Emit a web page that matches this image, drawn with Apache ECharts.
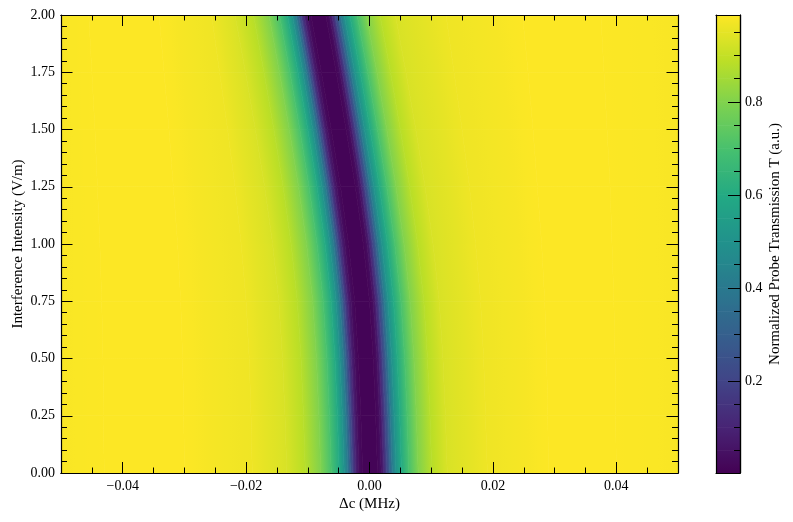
<!DOCTYPE html>
<html><head><meta charset="utf-8">
<style>html,body{margin:0;padding:0;background:#fff}#c{width:793px;height:522px}</style>
<script src="https://cdn.jsdelivr.net/npm/echarts@6/dist/echarts.min.js"></script>
</head><body><div id="c"></div>
<script>
// Transmission levels, left edge to right edge of the plot (band boundaries)
const levels = [0.98,0.985,0.985,0.965,0.93,0.88,0.80,0.70,0.60,0.50,0.40,0.30,0.20,0.10,0.04,0.01,
                0.01,0.04,0.10,0.20,0.30,0.40,0.50,0.60,0.70,0.80,0.88,0.93,0.965,0.985,0.985,0.98];
// Interference intensity (V/m) of each measured row
const intensities = [0,0.25,0.5,0.75,1,1.25,1.5,1.75,2];
// Detuning (in 1e-4 MHz) at which each row reaches each level
const row000 = [-500,-430,-300,-190,-134,-104,-79,-62,-49,-41,-35,-31,-27,-22,-17,-11, 13,19,23,28,33,37,43,52,64,79,101,126,191,290,400,500];
const row025 = [-500,-431,-301,-192,-137,-107,-82,-65,-52,-44,-38,-34,-30,-25,-20,-14, 10,16,20,25,30,34,40,49,61,76,98,123,188,289,399,500];
const row050 = [-500,-432,-303,-195,-141,-111,-86,-69,-56,-48,-42,-38,-34,-29,-24,-18, 6,12,16,21,26,30,36,45,57,72,94,119,185,287,398,500];
const row075 = [-500,-434,-306,-200,-147,-117,-92,-75,-62,-54,-48,-44,-40,-35,-30,-24, 0,6,10,15,20,24,30,39,51,66,88,113,180,284,396,500];
const row100 = [-500,-437,-311,-208,-157,-127,-102,-85,-72,-64,-58,-54,-50,-45,-40,-34, -10,-4,0,5,10,14,20,29,41,56,78,103,172,279,393,500];
const row125 = [-500,-441,-318,-218,-170,-140,-115,-98,-85,-77,-71,-67,-63,-58,-53,-47, -23,-17,-13,-8,-3,1,7,16,28,43,65,90,162,272,390,500];
const row150 = [-500,-445,-325,-230,-185,-155,-130,-113,-100,-92,-86,-82,-78,-73,-68,-62, -38,-32,-28,-23,-18,-14,-8,1,13,28,50,75,150,265,385,500];
const row175 = [-500,-450,-333,-243,-201,-171,-146,-129,-116,-108,-102,-98,-94,-89,-84,-78, -54,-48,-44,-39,-34,-30,-24,-15,-3,12,34,59,137,257,380,500];
const row200 = [-500,-455,-341,-256,-218,-188,-163,-146,-133,-125,-119,-115,-111,-106,-101,-95, -71,-65,-61,-56,-51,-47,-41,-32,-20,-5,17,42,124,248,375,500];
const rows = [row000,row025,row050,row075,row100,row125,row150,row175,row200];
const detuningUnit = 1e-4;

const xMajor = [-0.04,-0.02,0,0.02,0.04];
const xMinor = [-0.045,-0.035,-0.03,-0.025,-0.015,-0.01,-0.005,0.005,0.01,0.015,0.025,0.03,0.035,0.045];
const cbarMajor = [0.2,0.4,0.6,0.8];
const cbarMinor = [0.05,0.1,0.15,0.25,0.3,0.35,0.45,0.5,0.55,0.65,0.7,0.75,0.85,0.9,0.95];
const cbarLevels = [0.002,0.05,0.1,0.15,0.2,0.25,0.3,0.35,0.4,0.45,0.5,0.55,0.6,0.65,0.7,0.75,0.8,0.85,0.9,0.95,0.987];
const tMin = 0.002, tMax = 0.987;
const viridis = ['#440154','#482475','#414487','#355f8d','#2a788e','#21918c','#22a884','#44bf70','#7ad151','#bddf26','#fde725'];

const FONT = '"Liberation Serif","Times New Roman",serif';
function tColor(t){
  const u = Math.max(0,Math.min(1,(t-tMin)/(tMax-tMin)));
  return echarts.color.lerp(u, viridis);
}
function gradient(x0,y0,x1,y1,t0,t1){
  const stops = [];
  const n = 6;
  for(let i=0;i<=n;i++) stops.push({offset:i/n,color:tColor(t0+(t1-t0)*i/n)});
  return new echarts.graphic.LinearGradient(x0,y0,x1,y1,stops,true);
}
// one quad per (row pair, band)
const cells = [];
for(let r=0;r<rows.length-1;r++){
  for(let b=0;b<levels.length-1;b++){
    cells.push([rows[r][b]*detuningUnit,rows[r][b+1]*detuningUnit,rows[r+1][b]*detuningUnit,rows[r+1][b+1]*detuningUnit,
                intensities[r],intensities[r+1],levels[b],levels[b+1]]);
  }
}
const cbarCells = [];
for(let i=0;i<cbarLevels.length-1;i++) cbarCells.push([0,1,cbarLevels[i],cbarLevels[i+1]]);

function renderCell(params,api){
  const v = i=>api.value(i);
  const a = api.coord([v(0),v(4)]), b = api.coord([v(1),v(4)]), c = api.coord([v(3),v(5)]), d = api.coord([v(2),v(5)]);
  // iso-lines run along the band edge a-d
  const mL=[(a[0]+d[0])/2,(a[1]+d[1])/2], mR=[(b[0]+c[0])/2,(b[1]+c[1])/2];
  let nx=a[1]-d[1], ny=d[0]-a[0];
  const len=Math.hypot(nx,ny); nx/=len; ny/=len;
  const proj=(mR[0]-mL[0])*nx+(mR[1]-mL[1])*ny;
  const g = gradient(mL[0],mL[1],mL[0]+nx*proj,mL[1]+ny*proj,v(6),v(7));
  return {type:'polygon',shape:{points:[a,b,c,d]},style:{fill:g,stroke:g,lineWidth:0.7}};
}
function renderBar(params,api){
  const p0=api.coord([0,api.value(2)]), p1=api.coord([1,api.value(3)]);
  const g=gradient(0,p0[1],0,p1[1],api.value(2),api.value(3));
  return {type:'rect',shape:{x:p0[0],y:p1[1],width:p1[0]-p0[0],height:p0[1]-p1[1]},style:{fill:g,stroke:g,lineWidth:0.7}};
}
const black = '#000';
const line = {show:true,onZero:false,lineStyle:{color:black,width:1.2}};
const txt = {color:black,fontFamily:FONT,fontSize:14};
const nameTxt = {color:black,fontFamily:FONT,fontSize:15};
function xAx(pos,vals,len,labels,extra){
  return Object.assign({type:'value',gridIndex:0,position:pos,min:-0.05,max:0.05,z:10,splitLine:{show:false},axisLine:line,
    axisTick:{show:true,inside:true,length:len,customValues:vals,lineStyle:{color:black,width:1}},
    axisLabel:labels?Object.assign({show:true,margin:6,customValues:vals,
      formatter:v=>v.toFixed(2).replace('-','\u2212')},txt):{show:false}},extra||{});
}
function yAx(pos,labels,extra){
  return Object.assign({type:'value',gridIndex:0,position:pos,min:0,max:2,interval:0.25,z:10,splitLine:{show:false},axisLine:line,
    axisTick:{show:true,inside:true,length:11.5,lineStyle:{color:black,width:1}},
    minorTick:{show:true,splitNumber:5,length:6,lineStyle:{color:black,width:1}},
    axisLabel:labels?Object.assign({show:true,margin:6,formatter:v=>v.toFixed(2)},txt):{show:false}},extra||{});
}
function cbarAx(pos,vals,len,labels,extra){
  return Object.assign({type:'value',gridIndex:1,position:pos,min:tMin,max:tMax,z:10,splitLine:{show:false},axisLine:line,
    axisTick:{show:!!vals,inside:true,length:len,customValues:vals||[],lineStyle:{color:black,width:1}},
    axisLabel:labels?Object.assign({show:true,margin:5,customValues:vals,formatter:v=>v.toFixed(1)},txt):{show:false}},extra||{});
}
function plainX(pos){
  return {type:'value',gridIndex:1,position:pos,min:0,max:1,z:10,splitLine:{show:false},axisLine:line,axisTick:{show:false},axisLabel:{show:false}};
}
const chart = echarts.init(document.getElementById('c'),null,{renderer:'canvas'});
chart.setOption({
  animation:false,backgroundColor:'#fff',
  grid:[{left:61,top:15,width:617,height:458,outerBoundsMode:'none'},{left:716,top:15,width:24,height:458,outerBoundsMode:'none'}],
  xAxis:[
    xAx('bottom',xMajor,11,true,{name:'\u0394c (MHz)',nameLocation:'middle',nameGap:24,nameMoveOverlap:false,nameTextStyle:nameTxt}),
    xAx('bottom',xMinor,5.5,false),
    xAx('top',xMajor,11,false),
    xAx('top',xMinor,5.5,false),
    plainX('bottom'),plainX('top')
  ],
  yAxis:[
    yAx('left',true,{name:'Interference Intensity (V/m)',nameLocation:'middle',nameGap:35,nameMoveOverlap:false,nameTextStyle:nameTxt}),
    yAx('right',false),
    cbarAx('right',cbarMajor,12,true,{name:'Normalized Probe Transmission T (a.u.)',nameLocation:'middle',nameGap:28,nameRotate:90,nameTextStyle:nameTxt}),
    cbarAx('right',cbarMinor,6,false),
    cbarAx('left',null,0,false)
  ],
  series:[
    {type:'custom',xAxisIndex:0,yAxisIndex:0,coordinateSystem:'cartesian2d',clip:true,silent:true,progressive:0,
     renderItem:renderCell,data:cells,encode:{x:[0,1,2,3],y:[4,5]}},
    {type:'custom',xAxisIndex:4,yAxisIndex:2,coordinateSystem:'cartesian2d',clip:true,silent:true,progressive:0,
     renderItem:renderBar,data:cbarCells,encode:{x:[0,1],y:[2,3]}}
  ]
});
</script></body></html>
